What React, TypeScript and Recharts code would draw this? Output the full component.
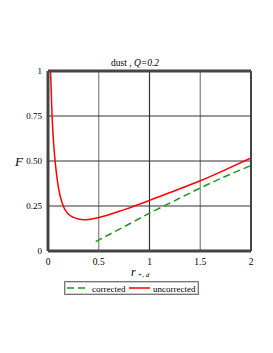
import React from 'react';
import { LineChart, Line, XAxis, YAxis, ReferenceLine } from 'recharts';

const xTicks = [0, 0.5, 1, 1.5, 2];
const yTicks = [0, 0.25, 0.5, 0.75, 1];
const yTickLabels = ['0', '0.25', '0.50', '0.75', '1'];
const xTickLabels = ['0', '0.5', '1', '1.5', '2'];

const uncorrectedR = [0.025, 0.04, 0.055, 0.07, 0.1, 0.15, 0.2, 0.25, 0.3, 0.35, 0.4, 0.5, 0.75, 1, 1.25, 1.5, 1.75, 2];
const uncorrectedF = [1.0, 0.75, 0.6, 0.5, 0.36, 0.25, 0.205, 0.187, 0.178, 0.174, 0.175, 0.186, 0.23, 0.281, 0.335, 0.39, 0.452, 0.517];
const correctedR = [0.47, 0.75, 1, 1.25, 1.5, 1.75, 2];
const correctedF = [0.052, 0.135, 0.21, 0.28, 0.35, 0.415, 0.475];

const uncorrected = uncorrectedR.map((r, i) => ({ r, F: uncorrectedF[i] }));
const corrected = correctedR.map((r, i) => ({ r, F: correctedF[i] }));

const gridColorsX: Record<number, string> = { 0.5: '#808080', 1: '#333', 1.5: '#808080' };
const serif = '"Liberation Serif", "DejaVu Serif", serif';

export default function App() {
  return (
    <div style={{ position: 'absolute', left: 0, top: 0, width: 273, height: 353, background: '#fff', fontFamily: serif }}>
      <LineChart width={273} height={353} margin={{ left: 0, right: 22, top: 71, bottom: 72 }}>
        {xTicks.slice(1, 4).map((t) => (
          <ReferenceLine key={'vx' + t} x={t} stroke={gridColorsX[t]} strokeWidth={1.2} />
        ))}
        {yTicks.slice(1, 4).map((t) => (
          <ReferenceLine key={'hy' + t} y={t} stroke="#333" strokeWidth={1.2} />
        ))}
        <ReferenceLine y={1} stroke="#444" strokeWidth={3} />
        <ReferenceLine x={2} stroke="#444" strokeWidth={2} />
        <XAxis
          type="number"
          dataKey="r"
          domain={[0, 2]}
          ticks={xTicks}
          tickFormatter={(v: number) => xTickLabels[xTicks.indexOf(v)] ?? String(v)}
          height={30}
          tickLine={false}
          tickSize={0}
          tickMargin={7}
          axisLine={{ stroke: '#444', strokeWidth: 3 }}
          tick={{ fill: '#000', fontSize: 9.5, fontFamily: serif }}
          interval={0}
          allowDataOverflow
        />
        <YAxis
          type="number"
          domain={[0, 1]}
          ticks={yTicks}
          tickFormatter={(v: number) => yTickLabels[yTicks.indexOf(v)] ?? String(v)}
          width={48}
          tickLine={false}
          tickSize={0}
          tickMargin={6}
          axisLine={{ stroke: '#444', strokeWidth: 3 }}
          tick={{ fill: '#000', fontSize: 9, fontFamily: serif }}
          interval={0}
          allowDataOverflow
        />
        <Line
          data={corrected}
          dataKey="F"
          type="monotone"
          stroke="#1e961e"
          strokeWidth={1.5}
          strokeDasharray="7 4"
          dot={false}
          isAnimationActive={false}
        />
        <Line
          data={uncorrected}
          dataKey="F"
          type="monotone"
          stroke="#ff0000"
          strokeWidth={1.5}
          dot={false}
          isAnimationActive={false}
        />
      </LineChart>
      <svg width={273} height={353} style={{ position: 'absolute', left: 0, top: 0, pointerEvents: 'none' }} fontFamily={serif}>
        <text x={111} y={66} fontSize={9.5} fill="#000">
          dust , <tspan fontStyle="italic">Q=0.2</tspan>
        </text>
        <text x={15} y={166} fontSize={13} fontStyle="italic" fill="#000">F</text>
        <text x={131} y={276} fontSize={12} fontStyle="italic" fill="#000">r</text>
        <text x={137.5} y={277} fontSize={7} fontStyle="italic" fill="#000">+, d</text>
        <rect x={64.5} y={281.5} width={134} height={13} fill="#fff" stroke="#777" strokeWidth={1} />
        <rect x={65.5} y={282.5} width={132} height={11} fill="none" stroke="#ccc" strokeWidth={1} />
        <line x1={67} y1={288} x2={87} y2={288} stroke="#1e961e" strokeWidth={1.5} strokeDasharray="7 4" />
        <text x={92} y={291.5} fontSize={9} fill="#000">corrected</text>
        <line x1={129} y1={288} x2={150} y2={288} stroke="#ff0000" strokeWidth={1.5} />
        <text x={153} y={291.5} fontSize={9} fill="#000">uncorrected</text>
      </svg>
    </div>
  );
}
